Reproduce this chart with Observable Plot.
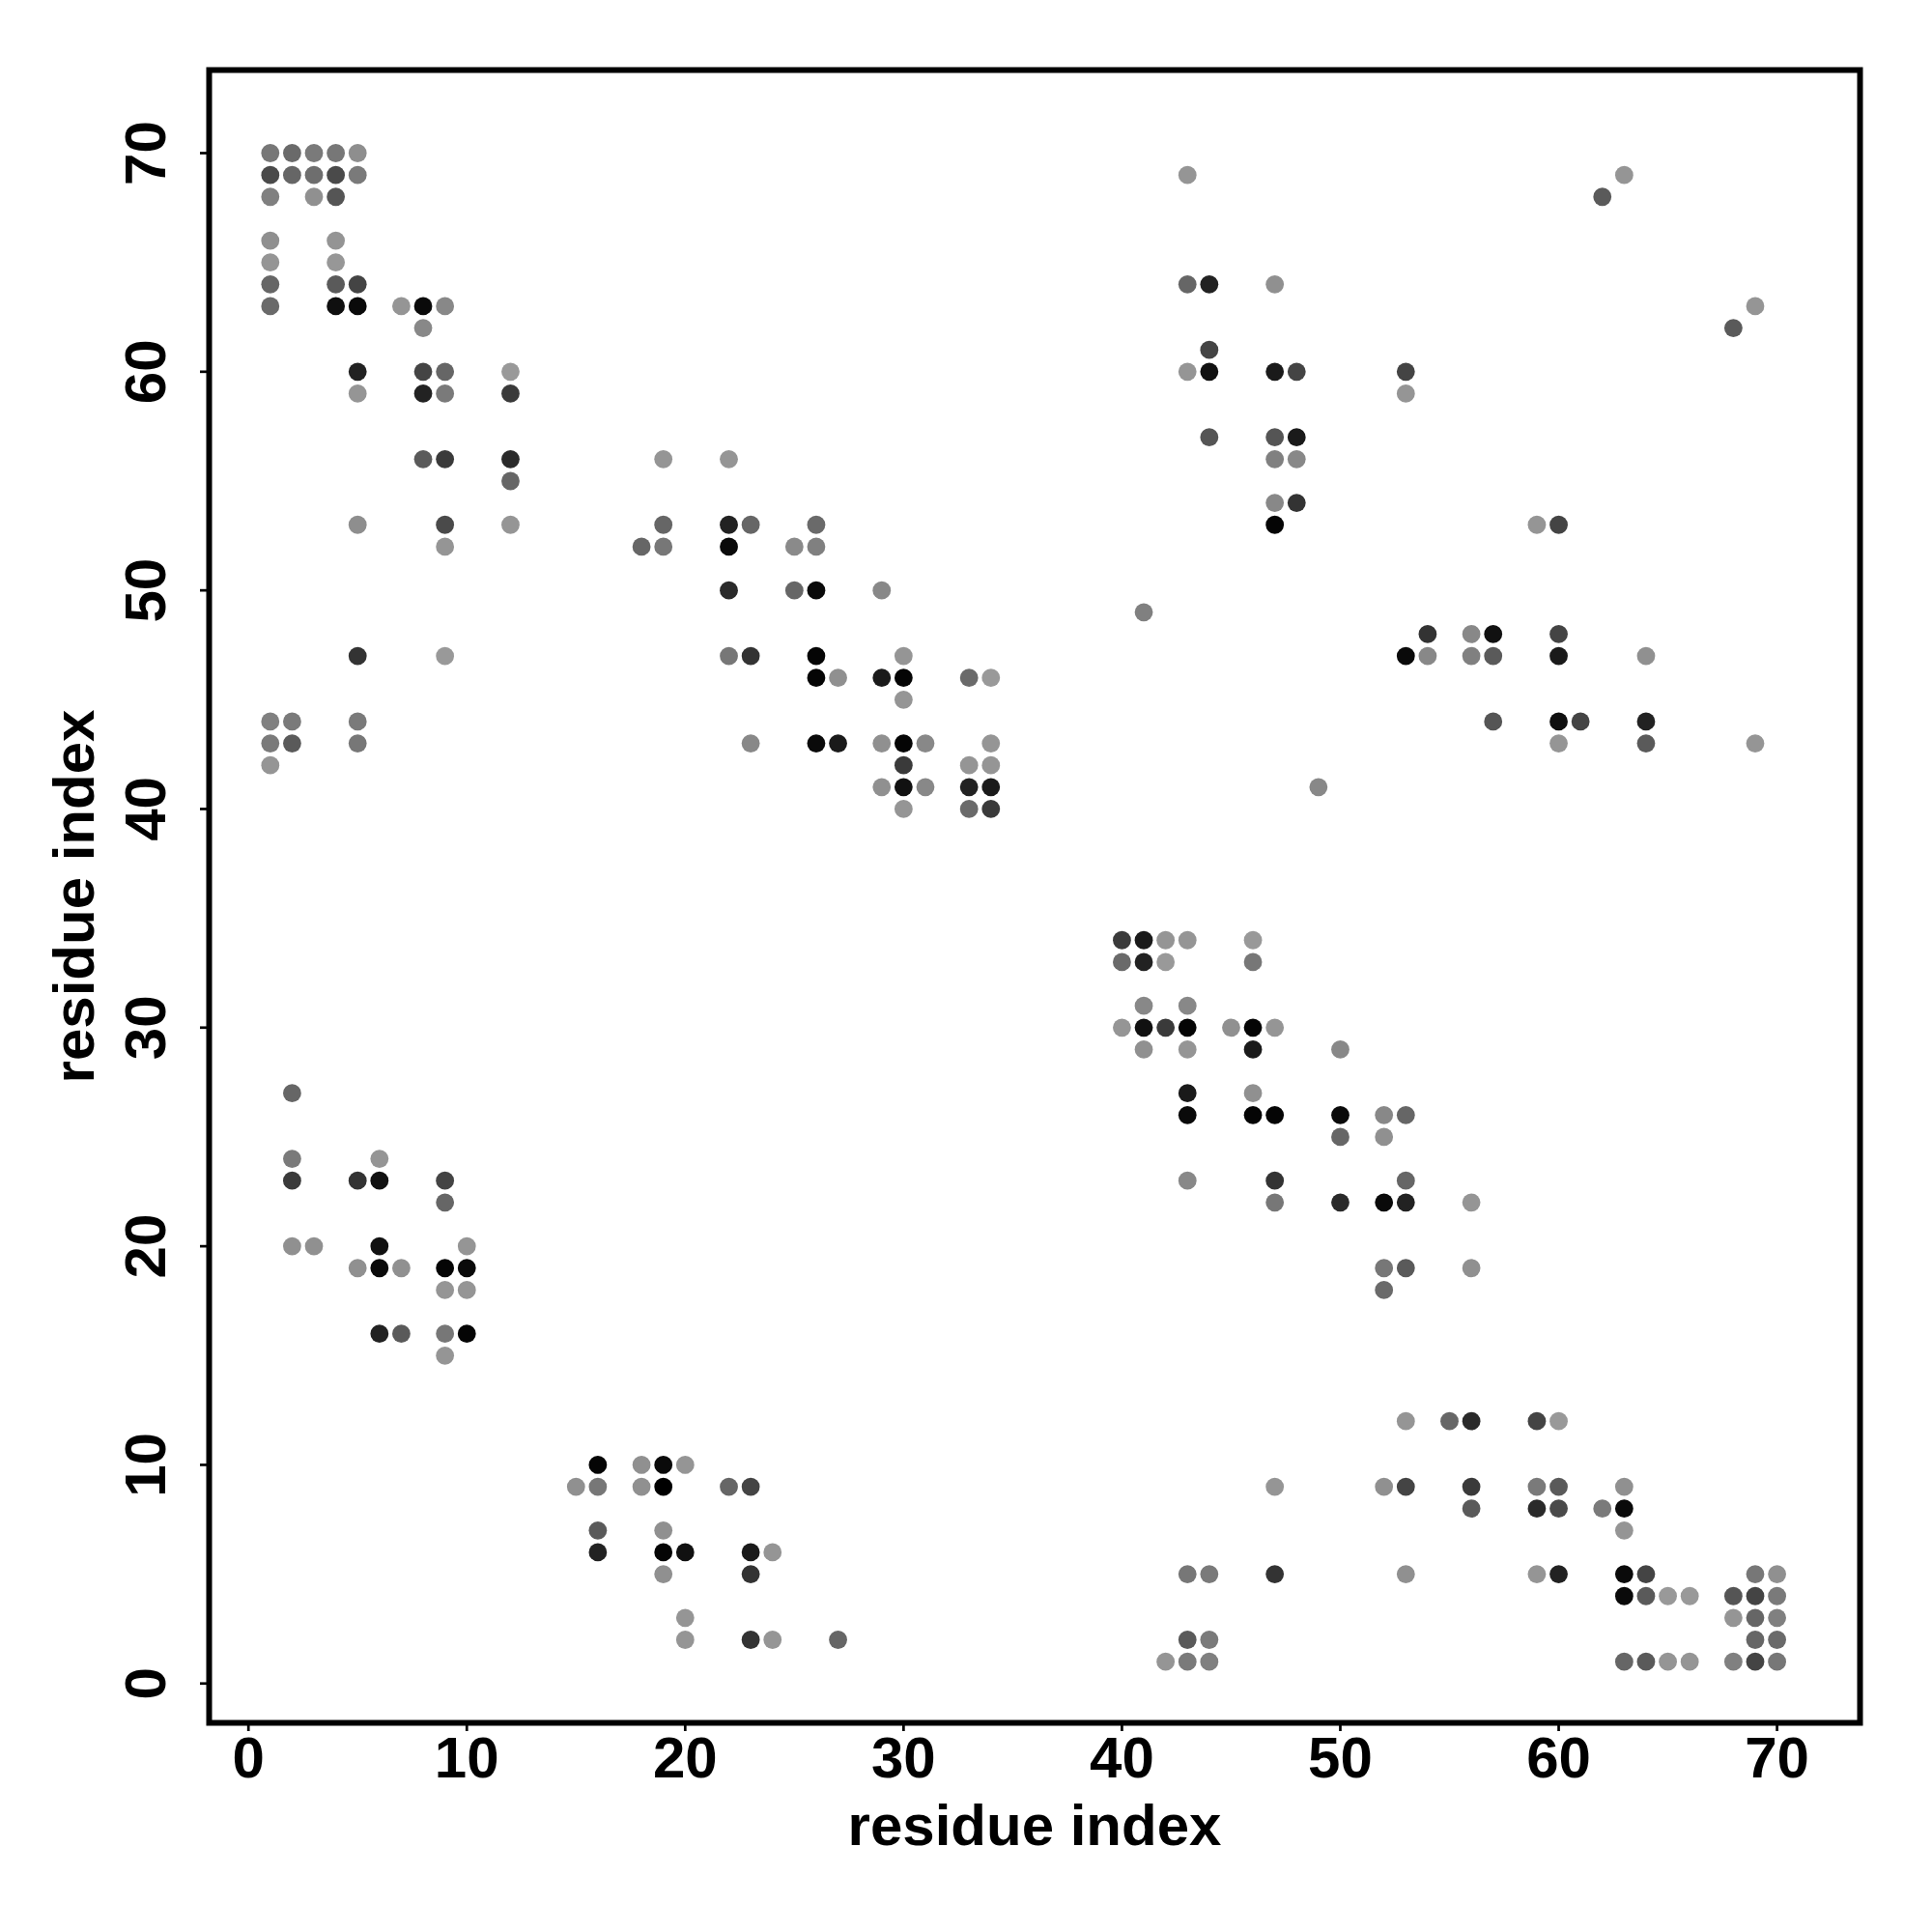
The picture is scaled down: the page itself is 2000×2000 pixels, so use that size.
<!DOCTYPE html>
<html><head><meta charset="utf-8">
<script src="https://cdn.jsdelivr.net/npm/d3@7"></script>
<script src="https://cdn.jsdelivr.net/npm/@observablehq/plot@0.6"></script>
<style>body{margin:0;background:#fff}</style>
</head><body><div id="chart"></div>
<script>
// [residue i, residue j, grey level (0 = black ... 153 = light grey)]
const blockTopLeft = [
  [1,70,119],[2,70,106],[3,70,122],[4,70,119],[5,70,142],
  [1,69,74],[2,69,102],[3,69,110],[4,69,74],[5,69,122],
  [1,68,128],[3,68,144],[4,68,85],
  [1,66,143],[4,66,148],
  [1,65,149],[4,65,151],
  [1,64,102],[4,64,90],[5,64,68],
  [1,63,106],[4,63,15],[5,63,10],[7,63,149],[8,63,10],[9,63,136],
  [8,62,136],
  [5,60,34],[8,60,68],[9,60,102],[12,60,153],
  [5,59,149],[8,59,34],[9,59,122],[12,59,58],
  [8,56,90],[9,56,58],[12,56,42],[19,56,149],[22,56,149],
  [12,55,102],
  [5,53,142],[9,53,74],[12,53,149],[19,53,102],[22,53,34],[23,53,102],[26,53,106],
  [9,52,149],[18,52,102],[19,52,119],[22,52,10],[25,52,138],[26,52,128],
  [22,50,42],[25,50,102],[26,50,10],[29,50,136],
  [41,49,128],
  [5,47,51],[9,47,153],[22,47,119],[23,47,51],[26,47,5],[30,47,149],
  [26,46,5],[27,46,144],[29,46,26],[30,46,5],[33,46,106],[34,46,153],
  [30,45,149],
  [1,44,128],[2,44,122],[5,44,122],
  [1,43,122],[2,43,90],[5,43,119],[23,43,136],[26,43,10],[27,43,26],[29,43,144],[30,43,5],[31,43,136],[34,43,149],
  [1,42,149],[30,42,58],[33,42,149],[34,42,149],
  [29,41,144],[30,41,17],[31,41,136],[33,41,34],[34,41,26],[49,41,136],
  [30,40,149],[33,40,106],[34,40,58]
];
const blockTopRight = [
  [43,69,149],[63,69,149],
  [62,68,90],
  [43,64,102],[44,64,34],[47,64,144],
  [69,63,149],
  [68,62,90],
  [44,61,68],
  [43,60,149],[44,60,17],[47,60,26],[48,60,68],[53,60,68],
  [53,59,149],
  [44,57,85],[47,57,85],[48,57,26],
  [47,56,128],[48,56,136],
  [47,54,136],[48,54,51],
  [47,53,5],[59,53,149],[60,53,68],
  [54,48,51],[56,48,136],[57,48,17],[60,48,68],
  [53,47,10],[54,47,136],[56,47,128],[57,47,90],[60,47,26],[64,47,144],
  [57,44,85],[60,44,15],[61,44,68],[64,44,34],
  [60,43,149],[64,43,90],[69,43,149]
];
const blockMiddle = [
  [40,34,58],[41,34,26],[42,34,149],[43,34,149],[46,34,153],
  [40,33,106],[41,33,34],[42,33,153],[46,33,119],
  [41,31,136],[43,31,136],
  [40,30,149],[41,30,17],[42,30,58],[43,30,5],[45,30,144],[46,30,5],[47,30,149],
  [41,29,144],[43,29,149],[46,29,26],[50,29,136],
  [43,27,26],[46,27,144],
  [43,26,10],[46,26,5],[47,26,5],[50,26,10],[52,26,136],[53,26,102],
  [50,25,102],[52,25,144],
  [43,23,136],[47,23,51],[53,23,102],
  [47,22,119],[50,22,42],[52,22,10],[53,22,34],[56,22,149],
  [52,19,119],[53,19,90],[56,19,144],
  [52,18,106]
];
const blockLowerLeft = [
  [2,27,102],
  [2,24,122],[6,24,149],
  [2,23,58],[5,23,51],[6,23,17],[9,23,68],
  [9,22,102],
  [2,20,144],[3,20,144],[6,20,17],[10,20,149],
  [5,19,144],[6,19,10],[7,19,144],[9,19,5],[10,19,10],
  [9,18,149],[10,18,149],
  [6,16,34],[7,16,90],[9,16,119],[10,16,5],
  [9,15,149]
];
const blockBottom = [
  [53,12,149],[55,12,102],[56,12,42],[59,12,68],[60,12,153],
  [16,10,5],[18,10,144],[19,10,10],[20,10,149],
  [15,9,144],[16,9,119],[18,9,144],[19,9,0],[22,9,102],[23,9,68],[47,9,149],[52,9,144],[53,9,68],[56,9,58],[59,9,122],[60,9,90],[63,9,144],
  [56,8,90],[59,8,42],[60,8,74],[62,8,122],[63,8,10],
  [16,7,90],[19,7,144],[63,7,149],
  [16,6,34],[19,6,5],[20,6,17],[23,6,26],[24,6,149],
  [19,5,144],[23,5,51],[43,5,119],[44,5,122],[47,5,51],[53,5,144],[59,5,149],[60,5,34],[63,5,10],[64,5,68],[69,5,119],[70,5,144],
  [63,4,10],[64,4,90],[65,4,153],[66,4,153],[68,4,85],[69,4,68],[70,4,122],
  [20,3,149],[68,3,149],[69,3,102],[70,3,128],
  [20,2,149],[23,2,51],[24,2,149],[27,2,102],[43,2,90],[44,2,122],[69,2,102],[70,2,106],
  [42,1,149],[43,1,122],[44,1,128],[63,1,102],[64,1,90],[65,1,149],[66,1,149],[68,1,128],[69,1,68],[70,1,119]
];
const tickValues = [0, 10, 20, 30, 40, 50, 60, 70];
const xTitle = "residue index";
const yTitle = "residue index";

const data = [...blockTopLeft, ...blockTopRight, ...blockMiddle, ...blockLowerLeft, ...blockBottom]
  .map(([i, j, level]) => ({i, j, level}));

const font = "'Liberation Sans', Arial, Helvetica, sans-serif";
const chart = Plot.plot({
  width: 2000, height: 2000,
  marginLeft: 216, marginRight: 75, marginTop: 72, marginBottom: 217,
  style: {fontFamily: font, fontWeight: "bold", background: "#fff", color: "#000"},
  x: {domain: [-1.8, 73.8]},
  y: {domain: [-1.8, 73.8]},
  color: {type: "linear", domain: [0, 153], range: ["#000000", "#999999"]},
  marks: [
    Plot.dot(data, {x: "i", y: "j", r: 9.4, fill: "level", stroke: null}),
    Plot.axisX({ticks: tickValues, tickSize: 9, tickPadding: 5, fontSize: 60, fontWeight: "bold", strokeWidth: 2.7, label: null}),
    Plot.axisY({ticks: tickValues, tickSize: 9, tickPadding: 37, tickRotate: -90, fontSize: 60, fontWeight: "bold", strokeWidth: 2.7, label: null}),
    Plot.frame({stroke: "#000", strokeWidth: 6}),
    Plot.text([xTitle], {frameAnchor: "bottom", dy: 84, lineAnchor: "top", textAnchor: "middle", fontSize: 60, fontWeight: "bold", text: d => d}),
    Plot.text([yTitle], {frameAnchor: "left", dx: -162, rotate: -90, lineAnchor: "top", textAnchor: "middle", fontSize: 60, fontWeight: "bold", text: d => d})
  ]
});
document.getElementById("chart").appendChild(chart);
</script>
</body></html>
